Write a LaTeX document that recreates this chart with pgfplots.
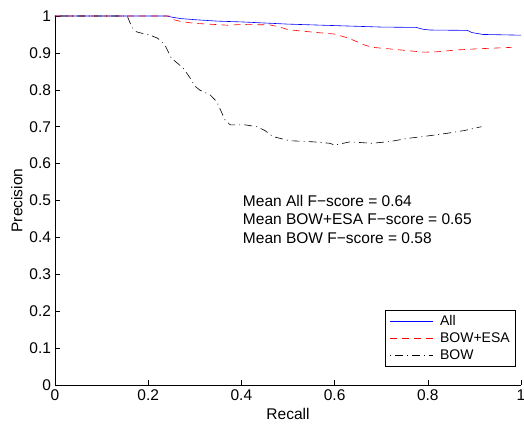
\documentclass[border=0pt]{standalone}
\usepackage{fontspec}
\setmainfont{Liberation Sans}
\usepackage{pgfplots}
\pgfplotsset{compat=1.18}
\usetikzlibrary{calc}

\begin{document}
\begin{tikzpicture}
\begin{axis}[
  name=ax,
  scale only axis,
  width=466bp, height=369bp,
  xmin=0, xmax=1, ymin=0, ymax=1,
  axis lines*=left,
  axis line style={line width=0.6bp},
  tick align=inside,
  major tick length=5bp,
  tick style={line width=0.5bp, black},
  xtick={0,0.2,0.4,0.6,0.8,1},
  ytick={0,0.1,0.2,0.3,0.4,0.5,0.6,0.7,0.8,0.9,1},
  xticklabels={0,0.2,0.4,0.6,0.8,1},
  yticklabels={0,0.1,0.2,0.3,0.4,0.5,0.6,0.7,0.8,0.9,1},
  /pgf/number format/assume math mode=true,
  ticklabel style={font=\fontsize{15.5bp}{18bp}\selectfont},
  xticklabel style={yshift=-1.5bp},
  yticklabel style={xshift=-0.5bp},
  xlabel={Recall}, ylabel={Precision},
  label style={font=\fontsize{15.5bp}{18bp}\selectfont},
  xlabel style={yshift=0bp},
  ylabel style={yshift=0bp},
  legend cell align=left,
  legend style={at={(rel axis cs:0.989,0.0515)}, anchor=south east,
    font=\fontsize{14bp}{16bp}\selectfont,
    inner xsep=4bp, inner ysep=3bp, row sep=1.5bp},
  legend image code/.code={\draw[#1] (0bp,0bp) -- (43bp,0bp);},
]
\addplot[draw=blue, line width=0.6bp] coordinates {
  (0,1)(0.24,1)(0.25,0.997)(0.27,0.993)(0.30,0.990)(0.35,0.986)(0.40,0.984)
  (0.45,0.981)(0.50,0.978)(0.55,0.976)(0.60,0.974)(0.65,0.972)(0.70,0.970)
  (0.775,0.969)(0.79,0.964)(0.805,0.962)(0.885,0.961)(0.895,0.955)
  (0.918,0.950)(1.0,0.948)
};
\addplot[draw=red, line width=0.6bp, dash pattern=on 7bp off 5bp] coordinates {
  (0,1)(0.245,1)(0.255,0.990)(0.27,0.985)(0.30,0.980)(0.33,0.978)(0.37,0.975)
  (0.40,0.977)(0.46,0.976)(0.48,0.971)(0.50,0.963)(0.547,0.957)(0.60,0.951)
  (0.63,0.940)(0.665,0.921)(0.682,0.915)(0.725,0.910)(0.79,0.902)(0.82,0.903)
  (0.862,0.908)(0.905,0.911)(0.98,0.915)
};
\addplot[draw=black, line width=0.6bp, dash pattern=on 1bp off 4bp on 8bp off 4bp] coordinates {
  (0,1)(0.155,1)(0.165,0.970)(0.175,0.957)(0.19,0.952)(0.204,0.948)(0.22,0.940)
  (0.236,0.921)(0.25,0.885)(0.26,0.875)(0.275,0.859)(0.29,0.832)(0.30,0.810)
  (0.311,0.799)(0.333,0.786)(0.347,0.768)(0.365,0.718)(0.376,0.705)(0.408,0.705)
  (0.433,0.700)(0.45,0.690)(0.468,0.673)(0.504,0.662)(0.554,0.659)(0.59,0.655)
  (0.60,0.650)(0.633,0.659)(0.68,0.655)(0.72,0.660)(0.755,0.668)(0.80,0.675)
  (0.841,0.682)(0.88,0.690)(0.915,0.700)
};
\legend{\hspace{5bp}All,\hspace{5bp}BOW+ESA,\hspace{5bp}BOW}

\node[anchor=west, font=\fontsize{15.5bp}{18bp}\selectfont, inner sep=0pt] at (axis cs:0.403,0.499) {Mean All F\textminus score = 0.64};
\node[anchor=west, font=\fontsize{15.5bp}{18bp}\selectfont, inner sep=0pt] at (axis cs:0.403,0.450) {Mean BOW+ESA F\textminus score = 0.65};
\node[anchor=west, font=\fontsize{15.5bp}{18bp}\selectfont, inner sep=0pt] at (axis cs:0.403,0.398) {Mean BOW F\textminus score = 0.58};
\end{axis}
\pgfresetboundingbox
\path[use as bounding box] ($(ax.south west)+(-55bp,-39bp)$) rectangle ($(ax.north east)+(3bp,16bp)$);
\end{tikzpicture}
\end{document}
